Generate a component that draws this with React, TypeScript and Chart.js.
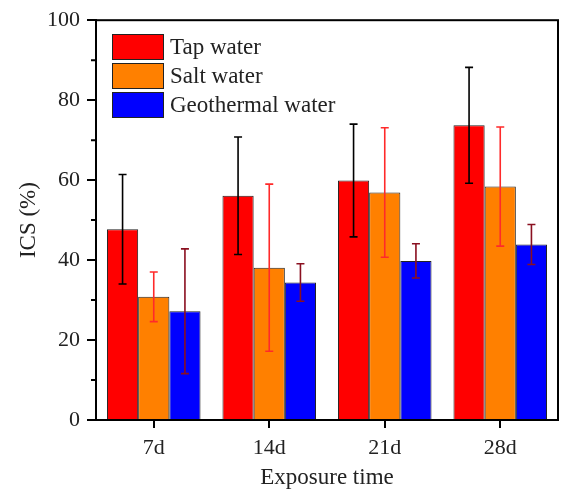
import React, { useEffect, useRef } from "react";
import { Chart, registerables } from "chart.js";

Chart.register(...registerables);

const categories = ["7d", "14d", "21d", "28d"];
const seriesNames = ["Tap water", "Salt water", "Geothermal water"];
const tapWater = [47.7, 56.1, 59.9, 73.7];
const saltWater = [30.8, 38.1, 56.9, 58.4];
const geoWater = [27.2, 34.4, 39.8, 43.9];
const tapErr = [13.7, 14.7, 14.1, 14.5];
const saltErr = [6.2, 20.9, 16.2, 14.9];
const geoErr = [15.6, 4.7, 4.3, 5.0];
const yTicks = [0, 20, 40, 60, 80, 100];
const yMinorTicks = [10, 30, 50, 70, 90];

const barColors = ["#ff0000", "#ff8000", "#0000ff"];
const errColors = ["#000000", "#ff2a2a", "#8a1020"];
const FONT = "'Liberation Serif', 'Times New Roman', serif";

const extrasPlugin = {
  id: "extras",
  afterDatasetsDraw(chart: any) {
    const ctx = chart.ctx;
    const yScale = chart.scales.y;
    const errs = [tapErr, saltErr, geoErr];
    chart.data.datasets.forEach((ds: any, di: number) => {
      const meta = chart.getDatasetMeta(di);
      ctx.save();
      ctx.strokeStyle = errColors[di];
      ctx.lineWidth = 1.6;
      meta.data.forEach((bar: any, i: number) => {
        const v = ds.data[i];
        const e = errs[di][i];
        const x = bar.x;
        const yt = yScale.getPixelForValue(v + e);
        const yb = yScale.getPixelForValue(v - e);
        ctx.beginPath();
        ctx.moveTo(x, yt);
        ctx.lineTo(x, yb);
        ctx.moveTo(x - 4, yt);
        ctx.lineTo(x + 4, yt);
        ctx.moveTo(x - 4, yb);
        ctx.lineTo(x + 4, yb);
        ctx.stroke();
      });
      ctx.restore();
    });
  },
  afterDraw(chart: any) {
    const ctx = chart.ctx;
    const a = chart.chartArea;
    const yScale = chart.scales.y;
    ctx.save();
    // frame
    ctx.strokeStyle = "#000";
    ctx.lineWidth = 2;
    ctx.strokeRect(a.left, a.top, a.right - a.left, a.bottom - a.top);
    // minor ticks
    ctx.beginPath();
    yMinorTicks.forEach((v) => {
      const y = yScale.getPixelForValue(v);
      ctx.moveTo(a.left - 5, y);
      ctx.lineTo(a.left, y);
    });
    ctx.stroke();
    // legend
    const bx = a.left + 16;
    const bw = 52;
    const bh = 26;
    const rows = [34, 63, 92];
    ctx.font = `23px ${FONT}`;
    ctx.textBaseline = "middle";
    ctx.textAlign = "left";
    chart.data.datasets.forEach((ds: any, di: number) => {
      const by = rows[di];
      ctx.fillStyle = barColors[di];
      ctx.fillRect(bx, by, bw, bh);
      ctx.strokeStyle = "#222";
      ctx.lineWidth = 1;
      ctx.strokeRect(bx + 0.5, by + 0.5, bw - 1, bh - 1);
      ctx.fillStyle = "#222";
      ctx.fillText(ds.label, bx + bw + 6, by + bh / 2 + 1);
    });
    ctx.restore();
  },
};

export default function App() {
  const ref = useRef<HTMLCanvasElement>(null);
  useEffect(() => {
    document.body.style.margin = "0";
    const canvas = ref.current;
    if (!canvas) return;
    const values = [tapWater, saltWater, geoWater];
    const chart = new Chart(canvas, {
      type: "bar",
      data: {
        labels: categories,
        datasets: seriesNames.map((name, i) => ({
          label: name,
          data: values[i],
          backgroundColor: barColors[i],
          borderColor: "#222222",
          borderWidth: 1,
          categoryPercentage: 0.81,
          barPercentage: 1.0,
        })),
      },
      options: {
        animation: false,
        responsive: false,
        maintainAspectRatio: false,
        layout: { padding: { top: 16, right: 3, left: 0, bottom: 0 } },
        plugins: {
          legend: { display: false },
          tooltip: { enabled: false },
        },
        scales: {
          x: {
            grid: {
              display: true,
              drawOnChartArea: false,
              drawTicks: true,
              offset: false,
              tickLength: 8,
              color: "#000",
              lineWidth: 2,
            },
            border: { display: true, color: "#000", width: 2 },
            ticks: {
              color: "#222",
              font: { family: FONT, size: 22 },
              padding: 7,
            },
            title: {
              display: true,
              text: "Exposure time",
              color: "#222",
              font: { family: FONT, size: 23 },
              padding: { top: 0, bottom: 1 },
            },
            afterFit: (s: any) => {
              s.height = 73;
            },
          },
          y: {
            min: 0,
            max: 100,
            afterBuildTicks: (s: any) => {
              s.ticks = yTicks.map((v) => ({ value: v }));
            },
            grid: {
              display: true,
              drawOnChartArea: false,
              drawTicks: true,
              tickLength: 9,
              color: "#000",
              lineWidth: 2,
            },
            border: { display: true, color: "#000", width: 2 },
            ticks: {
              color: "#222",
              font: { family: FONT, size: 22 },
              padding: 7,
            },
            title: {
              display: true,
              text: "ICS (%)",
              color: "#222",
              font: { family: FONT, size: 23 },
              padding: { top: 15, bottom: 0 },
            },
            afterFit: (s: any) => {
              s.width = 96;
            },
          },
        },
      },
      plugins: [extrasPlugin],
    });
    return () => chart.destroy();
  }, []);
  return (
    <div style={{ width: 561, height: 493, background: "#fff" }}>
      <canvas ref={ref} width={561} height={493} style={{ width: 561, height: 493, display: "block" }} />
    </div>
  );
}
